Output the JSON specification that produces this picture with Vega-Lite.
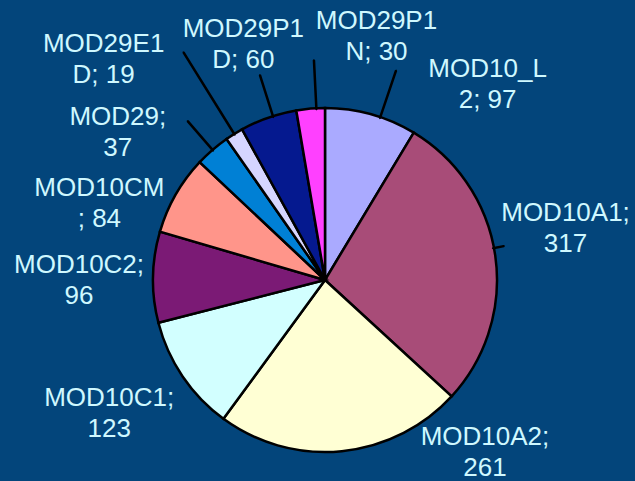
{
  "$schema": "https://vega.github.io/schema/vega-lite/v6.json",
  "width": 620,
  "height": 402,
  "autosize": {"type": "none"},
  "padding": {"left": 15, "top": 79, "right": 0, "bottom": 0},
  "background": "#03457B",
  "config": {"view": {"stroke": null}},
  "data": {
    "values": [
      {"order": 1, "product": "MOD10_L2", "value": 97, "label": "MOD10_L\n2; 97"},
      {"order": 2, "product": "MOD10A1", "value": 317, "label": "MOD10A1;\n317"},
      {"order": 3, "product": "MOD10A2", "value": 261, "label": "MOD10A2;\n261"},
      {"order": 4, "product": "MOD10C1", "value": 123, "label": "MOD10C1;\n123"},
      {"order": 5, "product": "MOD10C2", "value": 96, "label": "MOD10C2;\n96"},
      {"order": 6, "product": "MOD10CM", "value": 84, "label": "MOD10CM\n; 84"},
      {"order": 7, "product": "MOD29", "value": 37, "label": "MOD29;\n37"},
      {"order": 8, "product": "MOD29E1D", "value": 19, "label": "MOD29E1\nD; 19"},
      {"order": 9, "product": "MOD29P1D", "value": 60, "label": "MOD29P1\nD; 60"},
      {"order": 10, "product": "MOD29P1N", "value": 30, "label": "MOD29P1\nN; 30"}
    ]
  },
  "layer": [
    {
      "mark": {"type": "arc", "outerRadius": 172, "stroke": "#000000", "strokeWidth": 2.5},
      "encoding": {
        "theta": {"field": "value", "type": "quantitative", "stack": true},
        "order": {"field": "order", "type": "quantitative"},
        "color": {
          "field": "product",
          "type": "nominal",
          "legend": null,
          "scale": {
            "domain": ["MOD10_L2", "MOD10A1", "MOD10A2", "MOD10C1", "MOD10C2", "MOD10CM", "MOD29", "MOD29E1D", "MOD29P1D", "MOD29P1N"],
            "range": ["#AAAAFF", "#A84C78", "#FFFFD4", "#D2FFFF", "#7B1A75", "#FF958A", "#0080D5", "#D5D5FF", "#05198F", "#FF40FF"]
          }
        }
      }
    },
    {
      "transform": [
        {"window": [{"op": "sum", "field": "value", "as": "cum"}], "sort": [{"field": "order"}], "frame": [null, 0]},
        {"calculate": "datum.cum - datum.value / 2 + [10,-8,0,0,0,0,0,0,5,6][datum.order-1]", "as": "mid"},
        {"calculate": "datum.mid + 0.02", "as": "mid2"},
        {"filter": {"field": "product", "oneOf": ["MOD10_L2", "MOD10A1", "MOD29", "MOD29E1D", "MOD29P1D", "MOD29P1N"]}}
      ],
      "mark": {
        "type": "arc",
        "radius2": 171,
        "radius": {"expr": "[221,182,0,0,0,0,210,268,215,220][datum.order-1]"},
        "stroke": "#000000",
        "strokeWidth": 2.5,
        "fillOpacity": 0,
        "strokeJoin": "bevel"
      },
      "encoding": {
        "theta": {"field": "mid", "type": "quantitative", "stack": false},
        "theta2": {"field": "mid2"}
      }
    },
    {
      "mark": {
        "type": "text",
        "radius": 245,
        "font": "Liberation Sans",
        "fontSize": 26,
        "lineHeight": 31,
        "lineBreak": "\n",
        "align": "center",
        "baseline": "middle",
        "color": "#CFF8FF",
        "dx": {"expr": "[97,-2,136,-13,-1,-13,-47,-92,-1,72][datum.order-1]"},
        "dy": {"expr": "[25,-32,-87,-19,-11,30,22,-28,-20,-15][datum.order-1]"}
      },
      "encoding": {
        "theta": {"field": "value", "type": "quantitative", "stack": true},
        "order": {"field": "order", "type": "quantitative"},
        "text": {"field": "label"}
      }
    }
  ]
}
